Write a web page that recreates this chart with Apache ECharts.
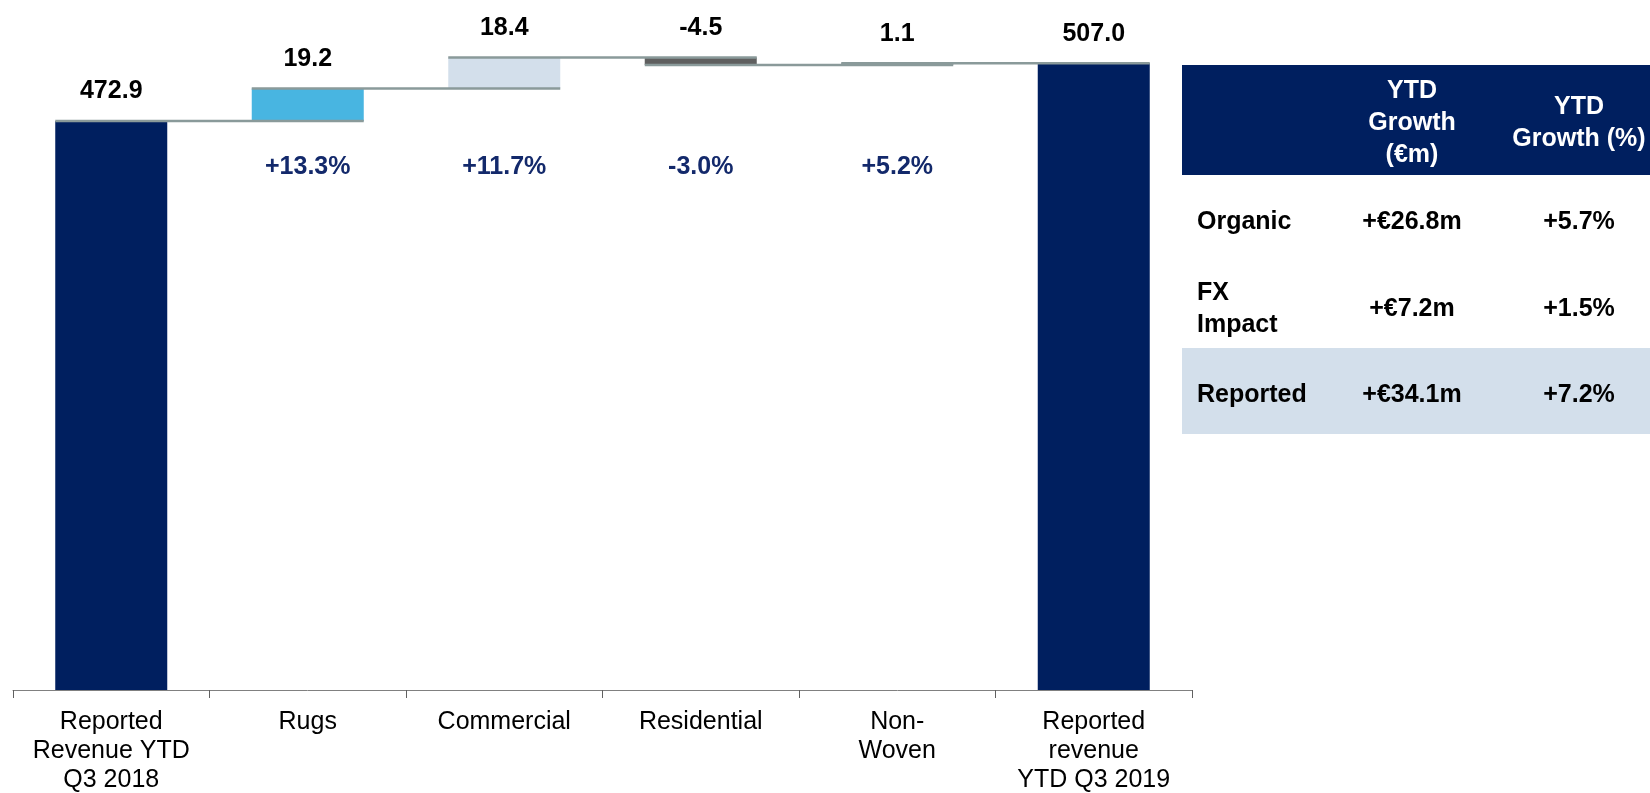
<!DOCTYPE html>
<html>
<head>
<meta charset="utf-8">
<title>Revenue bridge YTD Q3 2018 to YTD Q3 2019</title>
<script src="https://cdn.jsdelivr.net/npm/echarts@6/dist/echarts.min.js"></script>
<style>
  html, body { margin: 0; padding: 0; background: #ffffff; }
  #chart { width: 1650px; height: 793px; }
</style>
</head>
<body>
<div id="chart"></div>
<script>
// Revenue bridge (€m)
const categories = [
  'Reported\nRevenue YTD\nQ3 2018',
  'Rugs',
  'Commercial',
  'Residential',
  'Non-\nWoven',
  'Reported\nrevenue\nYTD Q3 2019'
];
const startValue = 472.9;
const segmentChanges = [19.2, 18.4, -4.5, 1.1];   // Rugs, Commercial, Residential, Non-Woven
const endValue = 507.0;
const segmentGrowth = ['', '+13.3%', '+11.7%', '-3.0%', '+5.2%', ''];

// Growth summary table
const tableHeaders = ['YTD\nGrowth\n(€m)', 'YTD\nGrowth (%)'];
const tableRowLabels = ['Organic', 'FX\nImpact', 'Reported'];
const tableGrowthEur = ['+€26.8m', '+€7.2m', '+€34.1m'];
const tableGrowthPct = ['+5.7%', '+1.5%', '+7.2%'];

// Colours
const NAVY = '#001F5F';
const barColors = [NAVY, '#48B5E1', '#D3DFEB', '#5F5F5F', '#8A9A9A', NAVY];
const CONNECTOR = '#8A9A9A';
const PCT_COLOR = '#13296B';
const FONT = '"Liberation Sans", Arial, Helvetica, sans-serif';

// Build waterfall stacks: invisible base + visible segment
const levels = [startValue];
segmentChanges.forEach(d => levels.push(+(levels[levels.length - 1] + d).toFixed(1)));
const baseData = ['-'];
const barData = [startValue];
segmentChanges.forEach((d, i) => {
  const before = levels[i], after = levels[i + 1];
  baseData.push(Math.min(before, after));
  barData.push(Math.abs(d));
});
baseData.push('-');
barData.push(endValue);
const valueLabels = [startValue, ...segmentChanges, endValue].map(v => v.toFixed(1));

// connector levels: after each bar, spanning to the next bar
const connectorData = levels.map((lv, i) => [i, lv]);

const BAR_RATIO = 0.57;

const chart = echarts.init(document.getElementById('chart'), null, { renderer: 'canvas' });

const graphicEls = [];
const TX = 1182, TW = 468;
const col1X = 1412, col2X = 1579, labelX = 1197;
// header
graphicEls.push({ type: 'rect', shape: { x: TX, y: 65, width: TW, height: 110 }, style: { fill: NAVY }, silent: true });
graphicEls.push({ type: 'text', style: { text: tableHeaders[0], x: col1X, y: 123, align: 'center', verticalAlign: 'middle', fill: '#ffffff', font: 'bold 25px ' + FONT, lineHeight: 32 } });
graphicEls.push({ type: 'text', style: { text: tableHeaders[1], x: col2X, y: 123, align: 'center', verticalAlign: 'middle', fill: '#ffffff', font: 'bold 25px ' + FONT, lineHeight: 32 } });
// rows
const rowTops = [175, 262, 348];
const rowH = 86;
tableRowLabels.forEach((lab, r) => {
  const cy = rowTops[r] + rowH / 2 + 4;
  if (r === tableRowLabels.length - 1) {
    graphicEls.push({ type: 'rect', shape: { x: TX, y: rowTops[r], width: TW, height: rowH }, style: { fill: '#D3DFEB' }, silent: true });
  }
  graphicEls.push({ type: 'text', style: { text: lab, x: labelX, y: cy, align: 'left', verticalAlign: 'middle', fill: '#000000', font: 'bold 25px ' + FONT, lineHeight: 32 } });
  graphicEls.push({ type: 'text', style: { text: tableGrowthEur[r], x: col1X, y: cy, align: 'center', verticalAlign: 'middle', fill: '#000000', font: 'bold 25px ' + FONT } });
  graphicEls.push({ type: 'text', style: { text: tableGrowthPct[r], x: col2X, y: cy, align: 'center', verticalAlign: 'middle', fill: '#000000', font: 'bold 25px ' + FONT } });
});

const option = {
  animation: false,
  backgroundColor: '#ffffff',
  grid: { left: 13, right: 458, top: 0, bottom: 103, containLabel: false, outerBoundsMode: 'none' },
  xAxis: [
    {
      type: 'category',
      data: categories,
      position: 'bottom',
      axisLine: { show: true, lineStyle: { color: '#808080', width: 1 } },
      axisTick: { show: true, length: 8, lineStyle: { color: '#606060', width: 1 } },
      axisLabel: {
        interval: 0, margin: 18, color: '#000000',
        fontFamily: FONT, fontSize: 25, lineHeight: 29
      }
    },
    {
      type: 'category',
      data: segmentGrowth,
      position: 'top',
      axisLine: { show: false },
      axisTick: { show: false },
      axisLabel: {
        inside: true, interval: 0, margin: 152, color: PCT_COLOR,
        fontFamily: FONT, fontSize: 25, fontWeight: 'bold', lineHeight: 30
      }
    }
  ],
  yAxis: { type: 'value', min: 136, max: 544.5, show: false, splitLine: { show: false } },
  series: [
    {
      name: 'base',
      type: 'bar',
      stack: 'bridge',
      barWidth: (BAR_RATIO * 100) + '%',
      itemStyle: { color: 'transparent' },
      emphasis: { disabled: true },
      data: baseData
    },
    {
      name: 'value',
      type: 'bar',
      stack: 'bridge',
      barWidth: (BAR_RATIO * 100) + '%',
      data: barData.map((v, i) => ({ value: v, itemStyle: { color: barColors[i] } })),
      label: {
        show: true,
        position: 'top',
        distance: 17,
        color: '#000000',
        fontFamily: FONT,
        fontSize: 25,
        fontWeight: 'bold',
        formatter: p => valueLabels[p.dataIndex]
      }
    },
    {
      name: 'connectors',
      type: 'custom',
      z: 5,
      silent: true,
      data: connectorData,
      renderItem: (params, api) => {
        const i = api.value(0);
        const lv = api.value(1);
        const half = api.size([1, 0])[0] * BAR_RATIO / 2;
        const p1 = api.coord([i, lv]);
        const last = i === categories.length - 2;
        const p2 = api.coord([i + 1, last ? endValue : lv]);
        return {
          type: 'line',
          shape: { x1: p1[0] - half, y1: p1[1], x2: p2[0] + half, y2: p2[1] },
          style: { stroke: CONNECTOR, lineWidth: 2.5 }
        };
      }
    }
  ],
  graphic: graphicEls
};

chart.setOption(option);
</script>
</body>
</html>
